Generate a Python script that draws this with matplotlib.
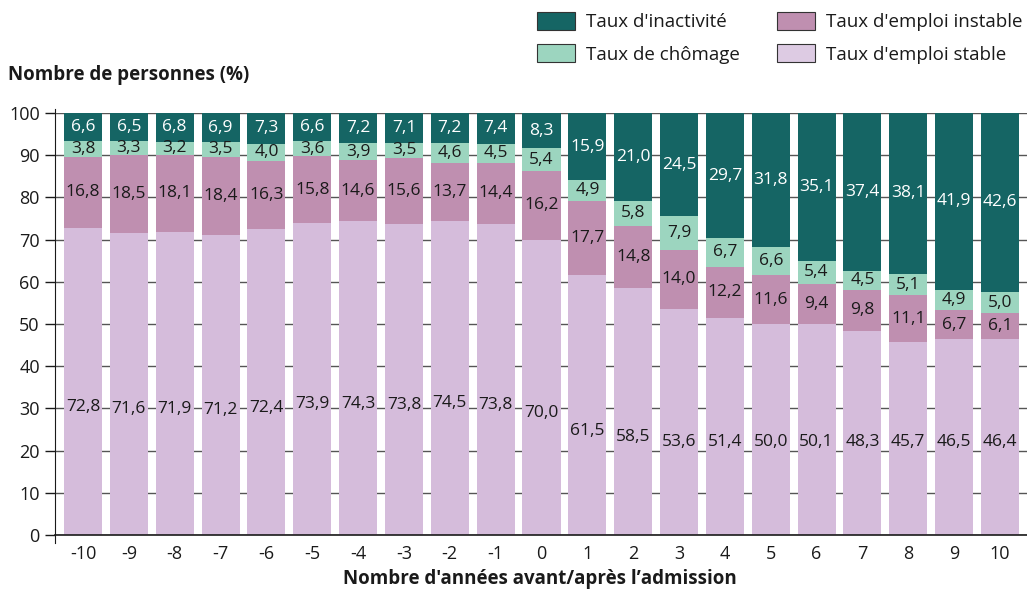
import matplotlib.pyplot as plt
from matplotlib.patches import Patch
import numpy as np

plt.rcParams['font.family'] = ['Open Sans', 'DejaVu Sans']

annees = list(range(-10, 11))
stable = [72.8, 71.6, 71.9, 71.2, 72.4, 73.9, 74.3, 73.8, 74.5, 73.8, 70.0,
          61.5, 58.5, 53.6, 51.4, 50.0, 50.1, 48.3, 45.7, 46.5, 46.4]
instable = [16.8, 18.5, 18.1, 18.4, 16.3, 15.8, 14.6, 15.6, 13.7, 14.4, 16.2,
            17.7, 14.8, 14.0, 12.2, 11.6, 9.4, 9.8, 11.1, 6.7, 6.1]
chomage = [3.8, 3.3, 3.2, 3.5, 4.0, 3.6, 3.9, 3.5, 4.6, 4.5, 5.4,
           4.9, 5.8, 7.9, 6.7, 6.6, 5.4, 4.5, 5.1, 4.9, 5.0]
inactivite = [6.6, 6.5, 6.8, 6.9, 7.3, 6.6, 7.2, 7.1, 7.2, 7.4, 8.3,
              15.9, 21.0, 24.5, 29.7, 31.8, 35.1, 37.4, 38.1, 41.9, 42.6]

c_stable = '#d5bcdb'
c_instable = '#bf8fb0'
c_chomage = '#9cd5bf'
c_inact = '#156564'


def fmt(v):
    return f"{v:.1f}".replace('.', ',')


fig = plt.figure(figsize=(10.27, 5.89), dpi=100)
ax = fig.add_axes([0.0536, 0.0917, 0.946, 0.7165])

x = np.array(annees)
w = 0.83
bas = np.zeros(len(x))
series = [(stable, c_stable), (instable, c_instable),
          (chomage, c_chomage), (inactivite, c_inact)]
for k, (vals, col) in enumerate(series):
    vals = np.array(vals)
    ax.bar(x, vals, w, bottom=bas, color=col, zorder=2)
    for xi, b, v in zip(x, bas, vals):
        if k == 0:
            y = max(v / 2 - 6, 22)
        else:
            y = b + v / 2
        tc = 'white' if k == 3 else '#1a1a1a'
        ax.text(xi, y, fmt(v), ha='center', va='center', fontsize=12.5,
                color=tc, zorder=3)
    bas = bas + vals

ax.set_xlim(-10.61, 10.58)
ax.set_ylim(0, 100)
ax.set_yticks(range(0, 101, 10))
ax.set_xticks(x)
ax.set_xticklabels([str(a) for a in annees])
ax.tick_params(axis='both', labelsize=13, colors='#1a1a1a')
ax.tick_params(axis='y', length=7, width=1, direction='out', pad=4)
ax.tick_params(axis='x', length=0, pad=7)
ax.grid(axis='y', color='#555555', lw=1, zorder=0)
ax.set_axisbelow(True)

for s in ['top', 'right']:
    ax.spines[s].set_visible(False)
ax.spines['left'].set_bounds(-2, 101)
ax.spines['left'].set_color('#1a1a1a')
ax.spines['bottom'].set_color('#1a1a1a')
ax.spines['bottom'].set_linewidth(1.2)
ax.spines['left'].set_position(('data', -10.61))

fig.text(0.008, 0.872, "Nombre de personnes (%)", fontsize=13.5,
         fontweight='bold', color='#1a1a1a', ha='left', va='center')
fig.text(0.526, 0.017, "Nombre d'années avant/après l’admission",
         fontsize=13.5, fontweight='bold', color='#1a1a1a', ha='center',
         va='center')

handles = [Patch(facecolor=c_inact, edgecolor='#333333', lw=0.8),
           Patch(facecolor=c_chomage, edgecolor='#333333', lw=0.8),
           Patch(facecolor=c_instable, edgecolor='#333333', lw=0.8),
           Patch(facecolor='#ddcbe3', edgecolor='#333333', lw=0.8)]
labels = ["Taux d'inactivité", "Taux de chômage",
          "Taux d'emploi instable", "Taux d'emploi stable"]
fig.legend(handles, labels, ncol=2, loc='upper left',
           bbox_to_anchor=(0.5067, 1.008), frameon=False, fontsize=13.5,
           handlelength=2.0, handleheight=1.07, handletextpad=0.6,
           columnspacing=2.0, labelspacing=0.7, labelcolor='#1a1a1a')

fig.savefig('out.png', dpi=100)
